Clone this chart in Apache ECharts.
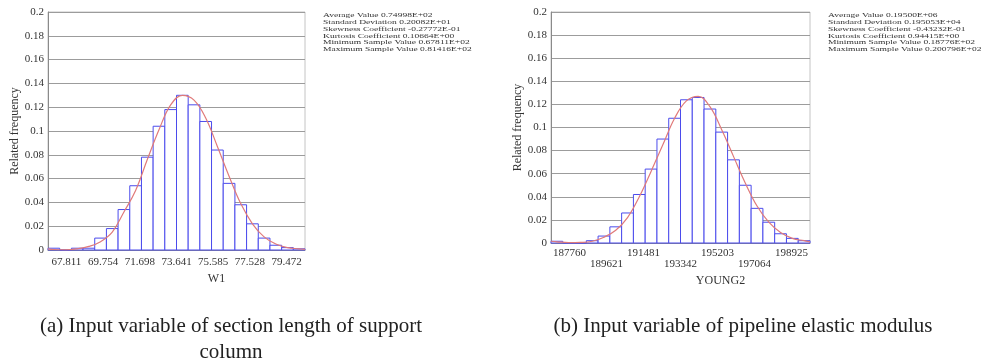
<!DOCTYPE html>
<html>
<head>
<meta charset="utf-8">
<script src="https://cdn.jsdelivr.net/npm/echarts@6/dist/echarts.min.js"></script>
<style>
html,body{margin:0;padding:0;background:#fff;}
#chart{width:984px;height:363px;}
</style>
</head>
<body>
<div id="chart"></div>
<script>
// ---------- data: left chart (W1) ----------
const leftMin = 67.811;
const leftMax = 81.416;
const leftTickLabels = ['67.811', '69.754', '71.698', '73.641', '75.585', '77.528', '79.472'];
const leftBars = [0.0015, 0, 0.0015, 0.0015, 0.010, 0.018, 0.034, 0.054, 0.078, 0.104, 0.118,
                  0.130, 0.122, 0.108, 0.084, 0.056, 0.038, 0.022, 0.010, 0.004, 0.002, 0.001];
// fitted curve: left edge, 22 bin centres, right edge
const leftCurve = [0.001, 0.0004, 0.0001, 0.001, 0.003, 0.007, 0.015, 0.032, 0.050, 0.076, 0.101, 0.122,
                   0.130, 0.126, 0.111, 0.087, 0.062, 0.039, 0.022, 0.011, 0.005, 0.002, 0.001, 0.0005];
const leftStats = ['Average Value 0.74998E+02', 'Standard Deviation 0.20082E+01',
                   'Skewness Coefficient -0.27772E-01', 'Kurtosis Coefficient 0.10664E+00',
                   'Minimum Sample Value 0.67811E+02', 'Maximum Sample Value 0.81416E+02'];
const leftName = 'W1';
const leftCaption = '(a) Input variable of section length of support\ncolumn';

// ---------- data: right chart (YOUNG2) ----------
const rightMin = 187760;
const rightMax = 200786;
const rightTickLabels = ['187760', '189621', '191481', '193342', '195203', '197064', '198925'];
const rightBars = [0.0015, 0, 0, 0.002, 0.006, 0.014, 0.026, 0.042, 0.064, 0.090, 0.108,
                   0.124, 0.126, 0.116, 0.096, 0.072, 0.050, 0.030, 0.018, 0.008, 0.004, 0.002];
const rightCurve = [0.0015, 0.001, 0.0003, 0.0005, 0.0015, 0.005, 0.011, 0.022, 0.040, 0.062, 0.085, 0.108,
                    0.123, 0.127, 0.118, 0.098, 0.075, 0.052, 0.032, 0.018, 0.009, 0.004, 0.002, 0.001];
const rightStats = ['Average Value 0.19500E+06', 'Standard Deviation 0.195053E+04',
                    'Skewness Coefficient -0.43232E-01', 'Kurtosis Coefficient 0.94415E+00',
                    'Minimum Sample Value 0.18776E+02', 'Maximum Sample Value 0.200796E+02'];
const rightName = 'YOUNG2';
const rightCaption = '(b) Input variable of pipeline elastic modulus';

const yMax = 0.2;
const yStep = 0.02;

// ---------- helpers ----------
const FONT = '"Liberation Serif", "DejaVu Serif", serif';
const BAR_STROKE = '#4b4bec';
const CURVE = '#e07a7a';

function binData(min, max, vals) {
  const w = (max - min) / vals.length;
  return vals.map((v, i) => [min + i * w, min + (i + 1) * w, v]);
}
function curveData(min, max, vals) {
  const n = vals.length - 2;
  const w = (max - min) / n;
  return vals.map((v, i) => {
    let x;
    if (i === 0) x = min;
    else if (i === vals.length - 1) x = max;
    else x = min + (i - 0.5) * w;
    return [x, v];
  });
}
function labelPositions(min, max, labels) {
  const step = (max - min) / labels.length;
  return labels.map((_, k) => min + (k + 0.5) * step);
}
function renderBar(params, api) {
  const p0 = api.coord([api.value(0), api.value(2)]);
  const p1 = api.coord([api.value(1), 0]);
  return {
    type: 'rect',
    shape: { x: p0[0], y: p0[1], width: p1[0] - p0[0], height: p1[1] - p0[1] },
    style: { fill: '#ffffff', stroke: BAR_STROKE, lineWidth: 1 }
  };
}

function xAxisCfg(gridIndex, min, max, labels, name, nameGap, stagger, margin) {
  return {
    type: 'value', gridIndex, min, max,
    axisLine: { show: true, onZero: false, lineStyle: { color: '#8a8a8a' } },
    axisTick: { show: false },
    splitLine: { show: false },
    axisLabel: {
      customValues: labelPositions(min, max, labels),
      formatter: (v) => {
        const idx = Math.round((v - min) / ((max - min) / labels.length) - 0.5);
        const t = labels[idx];
        return stagger && idx % 2 === 1 ? '\n' + t : t;
      },
      fontFamily: FONT, fontSize: 11, color: '#333', margin,
      lineHeight: 11, verticalAlign: 'top'
    },
    name, nameLocation: 'middle', nameGap,
    nameTextStyle: { fontFamily: FONT, fontSize: 12, color: '#333', padding: [0, 0, 0, 80] }
  };
}
function yAxisCfg(gridIndex) {
  return {
    type: 'value', gridIndex, min: 0, max: yMax, interval: yStep,
    axisLine: { show: true, lineStyle: { color: '#8a8a8a' } },
    axisTick: { show: false },
    splitLine: { show: true, lineStyle: { color: '#9c9c9c', width: 1 } },
    axisLabel: {
      fontFamily: FONT, fontSize: 11, color: '#333', margin: 4,
      formatter: v => String(Math.round(v * 100) / 100)
    },
    name: 'Related frequency', nameLocation: 'middle', nameGap: 27,
    nameTextStyle: { fontFamily: FONT, fontSize: 12, color: '#333' }
  };
}
function statsText(x, lines) {
  return {
    type: 'text', x, y: 12, scaleX: 1.36,
    style: { text: lines.join('\n'), fontFamily: FONT, fontSize: 7, lineHeight: 6.8,
             fill: '#333', textVerticalAlign: 'top' }
  };
}

const chart = echarts.init(document.getElementById('chart'), null, { renderer: 'canvas' });
chart.setOption({
  animation: false,
  backgroundColor: '#fff',
  grid: [
    { left: 48, top: 12, width: 257, height: 238, show: true, borderColor: '#c4c4c4', borderWidth: 1, backgroundColor: 'transparent' },
    { left: 551, top: 12, width: 259, height: 231, show: true, borderColor: '#c4c4c4', borderWidth: 1, backgroundColor: 'transparent' }
  ],
  xAxis: [
    xAxisCfg(0, leftMin, leftMax, leftTickLabels, leftName, 23, false, 7),
    xAxisCfg(1, rightMin, rightMax, rightTickLabels, rightName, 29, true, 5)
  ],
  yAxis: [yAxisCfg(0), yAxisCfg(1)],
  series: [
    { type: 'custom', xAxisIndex: 0, yAxisIndex: 0, renderItem: renderBar,
      data: binData(leftMin, leftMax, leftBars), z: 2 },
    { type: 'line', xAxisIndex: 0, yAxisIndex: 0, data: curveData(leftMin, leftMax, leftCurve),
      smooth: 0.4, showSymbol: false, lineStyle: { color: CURVE, width: 1.2 }, z: 3 },
    { type: 'custom', xAxisIndex: 1, yAxisIndex: 1, renderItem: renderBar,
      data: binData(rightMin, rightMax, rightBars), z: 2 },
    { type: 'line', xAxisIndex: 1, yAxisIndex: 1, data: curveData(rightMin, rightMax, rightCurve),
      smooth: 0.4, showSymbol: false, lineStyle: { color: CURVE, width: 1.2 }, z: 3 }
  ],
  graphic: [
    statsText(323, leftStats),
    statsText(828, rightStats),
    { type: 'text', x: 231, y: 313,
      style: { text: leftCaption, fontFamily: FONT, fontSize: 21, lineHeight: 26, fill: '#222',
               textAlign: 'center', textVerticalAlign: 'top' } },
    { type: 'text', x: 743, y: 313,
      style: { text: rightCaption, fontFamily: FONT, fontSize: 21, lineHeight: 26, fill: '#222',
               textAlign: 'center', textVerticalAlign: 'top' } }
  ]
});
</script>
</body>
</html>
